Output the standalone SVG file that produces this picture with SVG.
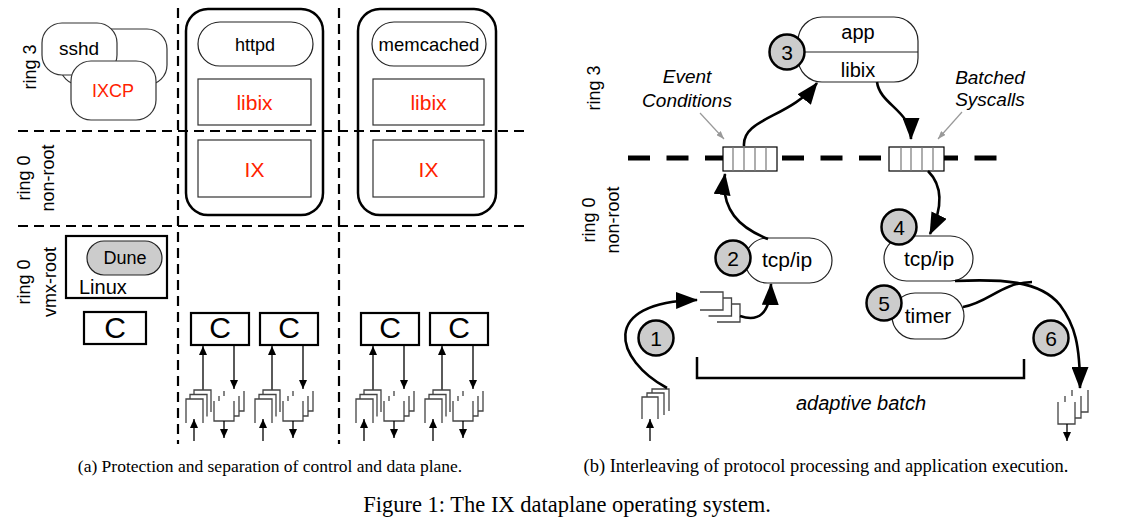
<svg xmlns="http://www.w3.org/2000/svg" width="1137" height="524" viewBox="0 0 1137 524">
<style>
text{font-family:"Liberation Sans",Arial,sans-serif;fill:#000}
.red{fill:#ff2200}
.cap{font-family:"Liberation Serif","Times New Roman",serif}
.dl{stroke:#000;stroke-width:2.2;stroke-dasharray:10 6;fill:none}
.thick{stroke:#000;stroke-width:5;stroke-dasharray:22 16.5;fill:none}
.pill{fill:#fff;stroke:#222;stroke-width:1.2}
.rb{fill:#fff;stroke:#333;stroke-width:1.2}
.outer{fill:none;stroke:#000;stroke-width:2.5}
.cbox{fill:#fff;stroke:#000;stroke-width:2.2}
.num{fill:#ccc;stroke:#000;stroke-width:2.5}
.pk{fill:#fff;stroke:#444;stroke-width:1.3}
.arr{fill:none;stroke:#000;stroke-width:2.6}
.sa{fill:none;stroke:#000;stroke-width:1.3}
.ga{fill:none;stroke:#999;stroke-width:1.2}
.it{font-style:italic}
.q{fill:#fff;stroke:#000;stroke-width:1.2}
.qd{stroke:#777;stroke-width:1.2}
</style>
<defs>
<marker id="big" markerUnits="userSpaceOnUse" viewBox="0 0 22 17" markerWidth="22" markerHeight="17" refX="21" refY="8.5" orient="auto"><path d="M0,0 L22,8.5 L0,17 z" fill="#000"/></marker>
<marker id="sm" markerUnits="userSpaceOnUse" viewBox="0 0 9 8" markerWidth="9" markerHeight="8" refX="9" refY="4" orient="auto"><path d="M0,0 L9,4 L0,8 z" fill="#000"/></marker>
<marker id="gr" markerUnits="userSpaceOnUse" viewBox="0 0 8 6" markerWidth="8" markerHeight="6" refX="8" refY="3" orient="auto"><path d="M0,0 L8,3 L0,6 z" fill="#999"/></marker>
<g id="rxL">
<path class="pk" d="M8,13 V-9 H25 V13"/>
<path class="pk" d="M4,17.5 V-4.5 H21 V17.5"/>
<path class="pk" d="M0,24 V0 H17 V24"/>
</g>
<g id="txL">
<path class="pk" d="M10,-10 V10 H30 V-10"/>
<path class="pk" d="M5,-5 V15 H25 V-5"/>
<path class="pk" d="M0,0 V20 H20 V0"/>
</g>
<g id="grp">
<rect class="cbox" x="0" y="0" width="58" height="32"/>
<text x="29" y="25" text-anchor="middle" font-size="30">C</text>
<line class="sa" x1="12" y1="77" x2="12" y2="33" marker-end="url(#sm)"/>
<line class="sa" x1="43" y1="33" x2="43" y2="76" marker-end="url(#sm)"/>
<use href="#rxL" x="-5" y="86"/>
<use href="#txL" x="23" y="88"/>
<line class="sa" x1="3" y1="128" x2="3" y2="106" marker-end="url(#sm)"/>
<line class="sa" x1="33" y1="108" x2="33" y2="125" marker-end="url(#sm)"/>
</g>
</defs>

<!-- Panel (a) grid -->
<g id="grid-a">
<line class="dl" x1="18" y1="131" x2="528" y2="131"/>
<line class="dl" x1="18" y1="226" x2="528" y2="226"/>
<line class="dl" x1="178" y1="8" x2="178" y2="444"/>
<line class="dl" x1="339" y1="8" x2="339" y2="444"/>
</g>

<g id="labels-a">
<text transform="rotate(-90 36 67)" x="36" y="67" text-anchor="middle" font-size="18">ring 3</text>
<text transform="rotate(-90 30 178)" x="30" y="178" text-anchor="middle" font-size="18">ring 0</text>
<text transform="rotate(-90 54 178)" x="54" y="178" text-anchor="middle" font-size="18">non-root</text>
<text transform="rotate(-90 30 282)" x="30" y="282" text-anchor="middle" font-size="18">ring 0</text>
<text transform="rotate(-90 56 282)" x="56" y="282" text-anchor="middle" font-size="18">vmx-root</text>
</g>

<g id="control-plane">
<rect class="rb" x="60" y="29" width="107" height="56" rx="20"/>
<rect class="rb" x="42" y="23" width="75" height="52" rx="20"/>
<text x="79" y="55" text-anchor="middle" font-size="19">sshd</text>
<rect class="rb" x="71" y="61" width="85" height="59" rx="20"/>
<text class="red" x="113" y="97" text-anchor="middle" font-size="18">IXCP</text>
</g>

<g id="httpd-dataplane">
<rect class="outer" x="186" y="9" width="137" height="206" rx="22"/>
<rect class="pill" x="198" y="22" width="115" height="44" rx="22"/>
<text x="255" y="51" text-anchor="middle" font-size="18">httpd</text>
<rect class="rb" x="198" y="79" width="113" height="46"/>
<text class="red" x="254.5" y="110" text-anchor="middle" font-size="21">libix</text>
<rect class="rb" x="198" y="140" width="113" height="57"/>
<text class="red" x="254.5" y="177" text-anchor="middle" font-size="21">IX</text>
</g>

<g id="memcached-dataplane">
<rect class="outer" x="358" y="9" width="138" height="206" rx="22"/>
<rect class="pill" x="372" y="22" width="114" height="44" rx="22"/>
<text x="429" y="51" text-anchor="middle" font-size="18.5">memcached</text>
<rect class="rb" x="373" y="79" width="111" height="46"/>
<text class="red" x="428.5" y="110" text-anchor="middle" font-size="21">libix</text>
<rect class="rb" x="373" y="140" width="111" height="57"/>
<text class="red" x="428.5" y="177" text-anchor="middle" font-size="21">IX</text>
</g>

<g id="linux">
<rect x="66" y="236" width="101" height="62" fill="#fff" stroke="#000" stroke-width="2.2"/>
<rect x="87" y="241" width="75" height="34" rx="17" fill="#ccc" stroke="#222" stroke-width="1.2"/>
<text x="125" y="264" text-anchor="middle" font-size="18">Dune</text>
<text x="79" y="294" font-size="20">Linux</text>
</g>

<g id="core-linux">
<rect class="cbox" x="84" y="312" width="62" height="32"/>
<text x="115" y="338" text-anchor="middle" font-size="30">C</text>
</g>

<g id="cores-a">
<use href="#grp" x="191" y="313"/>
<use href="#grp" x="260" y="313"/>
<use href="#grp" x="361" y="313"/>
<use href="#grp" x="430" y="313"/>
</g>

<!-- Panel (b) -->
<g id="labels-b">
<text transform="rotate(-90 600 88)" x="600" y="88" text-anchor="middle" font-size="18">ring 3</text>
<text transform="rotate(-90 595 220)" x="595" y="220" text-anchor="middle" font-size="18">ring 0</text>
<text transform="rotate(-90 619 220)" x="619" y="220" text-anchor="middle" font-size="18">non-root</text>
</g>

<g id="boundary">
<line class="thick" x1="628" y1="158" x2="1000" y2="158"/>
</g>

<g id="app">
<rect class="pill" x="798" y="17" width="120" height="65" rx="24"/>
<line x1="798" y1="52" x2="918" y2="52" stroke="#222" stroke-width="1.2"/>
<text x="858" y="39" text-anchor="middle" font-size="20">app</text>
<text x="858" y="77" text-anchor="middle" font-size="20">libix</text>
<circle class="num" cx="787" cy="52" r="17.5"/>
<text x="787" y="59.5" text-anchor="middle" font-size="21">3</text>
</g>

<g id="queue-events">
<rect class="q" x="723" y="147" width="54" height="24"/>
<line class="qd" x1="733" y1="147" x2="733" y2="171"/>
<line class="qd" x1="744" y1="147" x2="744" y2="171"/>
<line class="qd" x1="755" y1="147" x2="755" y2="171"/>
<line class="qd" x1="766" y1="147" x2="766" y2="171"/>
</g>

<g id="queue-syscalls">
<rect class="q" x="889" y="147" width="55" height="24"/>
<line class="qd" x1="901" y1="147" x2="901" y2="171"/>
<line class="qd" x1="911" y1="147" x2="911" y2="171"/>
<line class="qd" x1="922" y1="147" x2="922" y2="171"/>
<line class="qd" x1="933" y1="147" x2="933" y2="171"/>
</g>

<g id="annot-events">
<text class="it" x="687" y="83" text-anchor="middle" font-size="19">Event</text>
<text class="it" x="687" y="107" text-anchor="middle" font-size="19">Conditions</text>
</g>
<g id="annot-syscalls">
<text class="it" x="990" y="84" text-anchor="middle" font-size="19">Batched</text>
<text class="it" x="990" y="106" text-anchor="middle" font-size="19">Syscalls</text>
</g>

<g id="tcpip-rx">
<rect class="pill" x="745" y="238" width="87" height="45" rx="22.5"/>
<text x="787" y="267" text-anchor="middle" font-size="21">tcp/ip</text>
<circle class="num" cx="733" cy="258" r="17.5"/>
<text x="733" y="265.5" text-anchor="middle" font-size="21">2</text>
</g>

<g id="tcpip-tx">
<rect class="pill" x="884" y="236" width="89" height="45" rx="22.5"/>
<text x="929" y="266" text-anchor="middle" font-size="21">tcp/ip</text>
<circle class="num" cx="899" cy="227" r="17.5"/>
<text x="899" y="234.5" text-anchor="middle" font-size="21">4</text>
</g>

<g id="timer">
<rect class="pill" x="892" y="293" width="72" height="46" rx="23"/>
<text x="928" y="323" text-anchor="middle" font-size="21">timer</text>
<circle class="num" cx="884" cy="303" r="17.5"/>
<text x="884" y="310.5" text-anchor="middle" font-size="21">5</text>
</g>

<g id="step1">
<circle class="num" cx="656" cy="338" r="17.5"/>
<text x="656" y="345.5" text-anchor="middle" font-size="21">1</text>
</g>
<g id="step6">
<circle class="num" cx="1051" cy="338" r="17.5"/>
<text x="1051" y="345.5" text-anchor="middle" font-size="21">6</text>
</g>

<g id="rx-ring">
<path class="pk" d="M652,411 V389 H669 V411"/>
<path class="pk" d="M647,415 V393 H664 V415"/>
<path class="pk" d="M642,419 V397 H658 V419"/>
</g>

<g id="rx-batch">
<path class="pk" d="M717,304 H740 V322 H717"/>
<path class="pk" d="M708.5,298 H731.5 V316 H708.5"/>
<path class="pk" d="M700,292 H723 V310 H700"/>
</g>

<g id="tx-ring">
<path class="pk" d="M1072,390 V412 H1088 V390"/>
<path class="pk" d="M1065,396 V418 H1081 V396"/>
<path class="pk" d="M1058,402 V424 H1075 V402"/>
</g>

<g id="adaptive-batch">
<path d="M697,357 V378 H1024 V359" fill="none" stroke="#000" stroke-width="2.5"/>
<text class="it" x="861" y="410" text-anchor="middle" font-size="20">adaptive batch</text>
</g>

<g id="connectors">
<line class="ga" x1="700" y1="113" x2="724" y2="139" marker-end="url(#gr)"/>
<line class="ga" x1="962" y1="112" x2="938" y2="139" marker-end="url(#gr)"/>
<path class="arr" d="M744,146 C742,118 790,118 817,83" marker-end="url(#big)"/>
<path class="arr" d="M877,82 C880,105 911,110 911,139" marker-end="url(#big)"/>
<path class="arr" d="M928,171 C942,185 944,205 930,234" marker-end="url(#big)"/>
<path class="arr" d="M768,239 C740,228 720,210 725,174" marker-end="url(#big)"/>
<path class="arr" d="M740,316 C758,322 770,315 771,284" marker-end="url(#big)"/>
<path class="arr" d="M667,388 C615,360 598,302 697,300" marker-end="url(#big)"/>
<path class="arr" d="M955,281 C1000,279 1040,280 1060,305 C1075,325 1080,345 1080,388" marker-end="url(#big)"/>
<path class="arr" d="M963,307 C990,302 1000,283 1032,282"/>
<line class="sa" x1="650" y1="441" x2="650" y2="419" marker-end="url(#sm)"/>
<line class="sa" x1="1067" y1="424" x2="1067" y2="441" marker-end="url(#sm)"/>
</g>

<g id="captions">
<text class="cap" x="270" y="472" text-anchor="middle" font-size="17.5">(a) Protection and separation of control and data plane.</text>
<text class="cap" x="826" y="472" text-anchor="middle" font-size="18.5">(b) Interleaving of protocol processing and application execution.</text>
<text class="cap" x="567" y="512" text-anchor="middle" font-size="22.5">Figure 1: The IX dataplane operating system.</text>
</g>
</svg>
